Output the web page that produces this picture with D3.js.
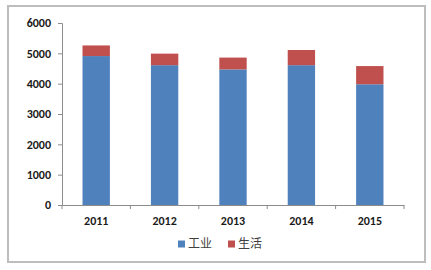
<!DOCTYPE html>
<html>
<head>
<meta charset="utf-8">
<script src="https://cdn.jsdelivr.net/npm/d3@7"></script>
<style>
body { margin: 0; background: #fff; }
text { font-family: Calibri, Carlito, "Liberation Sans", "DejaVu Sans", sans-serif; }
</style>
</head>
<body>
<script>
// data
var years = ["2011", "2012", "2013", "2014", "2015"];
var industry = [4910, 4610, 4470, 4610, 3980];   // 工业
var living = [350, 380, 390, 500, 600];          // 生活
var seriesNames = ["工业", "生活"];
var colors = ["#4f81bd", "#c0504d"];
var yTicks = [0, 1000, 2000, 3000, 4000, 5000, 6000];

var w = 431, h = 270;

var svg = d3.select("body").append("svg")
    .attr("width", w)
    .attr("height", h);

// outer frame
svg.append("rect")
    .attr("x", 8).attr("y", 6)
    .attr("width", 417).attr("height", 256)
    .attr("fill", "#fff")
    .attr("stroke", "#bdbdbd")
    .attr("stroke-width", 2);

var x = d3.scaleBand()
    .domain(years)
    .range([62, 404])
    .paddingInner(0.6)
    .paddingOuter(0.3);

var y = d3.scaleLinear()
    .domain([0, 6000])
    .range([205, 23]);

var rows = years.map(function(yr, i) {
    return {year: yr, "工业": industry[i], "生活": living[i]};
});
var stacked = d3.stack().keys(seriesNames)(rows);

var barsG = svg.append("g");
barsG.selectAll("g.series")
    .data(stacked)
    .enter().append("g")
    .attr("fill", function(d, i) { return colors[i]; })
    .selectAll("rect")
    .data(function(d) { return d; })
    .enter().append("rect")
    .attr("x", function(d) { return x(d.data.year); })
    .attr("y", function(d) { return y(d[1]); })
    .attr("width", x.bandwidth())
    .attr("height", function(d) { return y(d[0]) - y(d[1]); });

// y axis
var yAxis = svg.append("g")
    .attr("transform", "translate(62,0)")
    .call(d3.axisLeft(y).tickValues(yTicks).tickSize(4).tickPadding(7).tickFormat(d3.format("d")));
yAxis.select(".domain").attr("stroke", "#8c8c8c");
yAxis.selectAll(".tick line").attr("stroke", "#8c8c8c");
yAxis.selectAll("text")
    .attr("fill", "#1a1a1a")
    .attr("font-size", 12)
    .attr("font-weight", "bold");

// x axis, ticks on category boundaries
var xAxis = svg.append("g")
    .attr("transform", "translate(0,205)")
    .call(d3.axisBottom(x).tickSize(0).tickPadding(11));
xAxis.select(".domain").attr("stroke", "#8c8c8c");
xAxis.selectAll("text")
    .attr("fill", "#1a1a1a")
    .attr("font-size", 12)
    .attr("font-weight", "bold");
var bounds = years.map(function(d) { return x(d) - x.step() * x.paddingInner() / 2; });
bounds.push(404);
bounds[0] = 62;
xAxis.selectAll("line.bound")
    .data(bounds)
    .enter().append("line")
    .attr("class", "bound")
    .attr("x1", function(d) { return d; })
    .attr("x2", function(d) { return d; })
    .attr("y1", 0).attr("y2", 4)
    .attr("stroke", "#8c8c8c");

// legend
var legend = svg.append("g").attr("transform", "translate(178,244)");
var item = legend.selectAll("g")
    .data(seriesNames)
    .enter().append("g")
    .attr("transform", function(d, i) { return "translate(" + (i * 50) + ",0)"; });
item.append("rect")
    .attr("x", 0).attr("y", -3.5)
    .attr("width", 7).attr("height", 7)
    .attr("fill", function(d, i) { return colors[i]; });
item.append("text")
    .attr("x", 10).attr("y", 0)
    .attr("dy", "0.36em")
    .attr("font-size", 12)
    .attr("fill", "#404040")
    .style("font-family", "'Noto Sans CJK SC', sans-serif")
    .text(function(d) { return d; });
</script>
</body>
</html>
